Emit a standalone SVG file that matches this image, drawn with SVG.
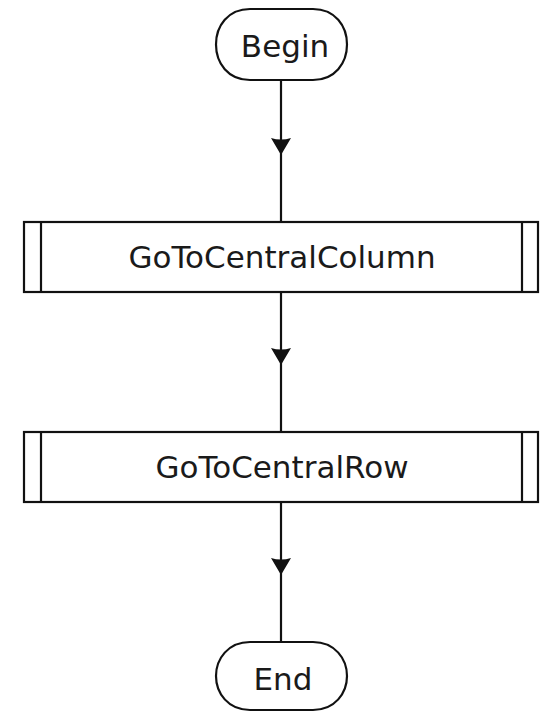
<svg xmlns="http://www.w3.org/2000/svg" width="545" height="713" viewBox="0 0 545 713">
  <style>
    .term { fill: #ffffff; stroke: #111; stroke-width: 2.2; }
    .proc { fill: #ffffff; stroke: #111; stroke-width: 2.2; }
    .bar { stroke: #111; stroke-width: 2.2; }
    .lbl { font-family: "DejaVu Sans", "Liberation Sans", sans-serif; font-size: 31px; fill: #1a1a1a; text-anchor: middle; }
    .flow { stroke: #111; stroke-width: 2.2; fill: none; }
    .head { fill: #111; }
  </style>
  <rect width="545" height="713" fill="#ffffff"/>

  <g id="connectors">
    <line class="flow" x1="281" y1="80" x2="281" y2="222"/>
    <path class="head" d="M271,138 Q281,141 291,138 L281,155 Z"/>
    <line class="flow" x1="281" y1="292" x2="281" y2="432"/>
    <path class="head" d="M271,348 Q281,351 291,348 L281,365 Z"/>
    <line class="flow" x1="281" y1="502" x2="281" y2="642"/>
    <path class="head" d="M271,558 Q281,561 291,558 L281,575 Z"/>
  </g>

  <g id="begin">
    <path class="term" d="M250,9 L313,9 C335,9 347,26 347,44.5 C347,63 335,80 313,80 L250,80 C228,80 216,63 216,44.5 C216,26 228,9 250,9 Z"/>
    <text class="lbl" x="285" y="57">Begin</text>
  </g>

  <g id="goToCentralColumn">
    <rect class="proc" x="24" y="222" width="514" height="70"/>
    <line class="bar" x1="41" y1="222" x2="41" y2="292"/>
    <line class="bar" x1="522" y1="222" x2="522" y2="292"/>
    <text class="lbl" x="282" y="268">GoToCentralColumn</text>
  </g>

  <g id="goToCentralRow">
    <rect class="proc" x="24" y="432" width="514" height="70"/>
    <line class="bar" x1="41" y1="432" x2="41" y2="502"/>
    <line class="bar" x1="522" y1="432" x2="522" y2="502"/>
    <text class="lbl" x="282" y="478">GoToCentralRow</text>
  </g>

  <g id="end">
    <path class="term" d="M250,642 L313,642 C335,642 347,659 347,676 C347,693 335,710 313,710 L250,710 C228,710 216,693 216,676 C216,659 228,642 250,642 Z"/>
    <text class="lbl" x="283" y="690">End</text>
  </g>
</svg>
